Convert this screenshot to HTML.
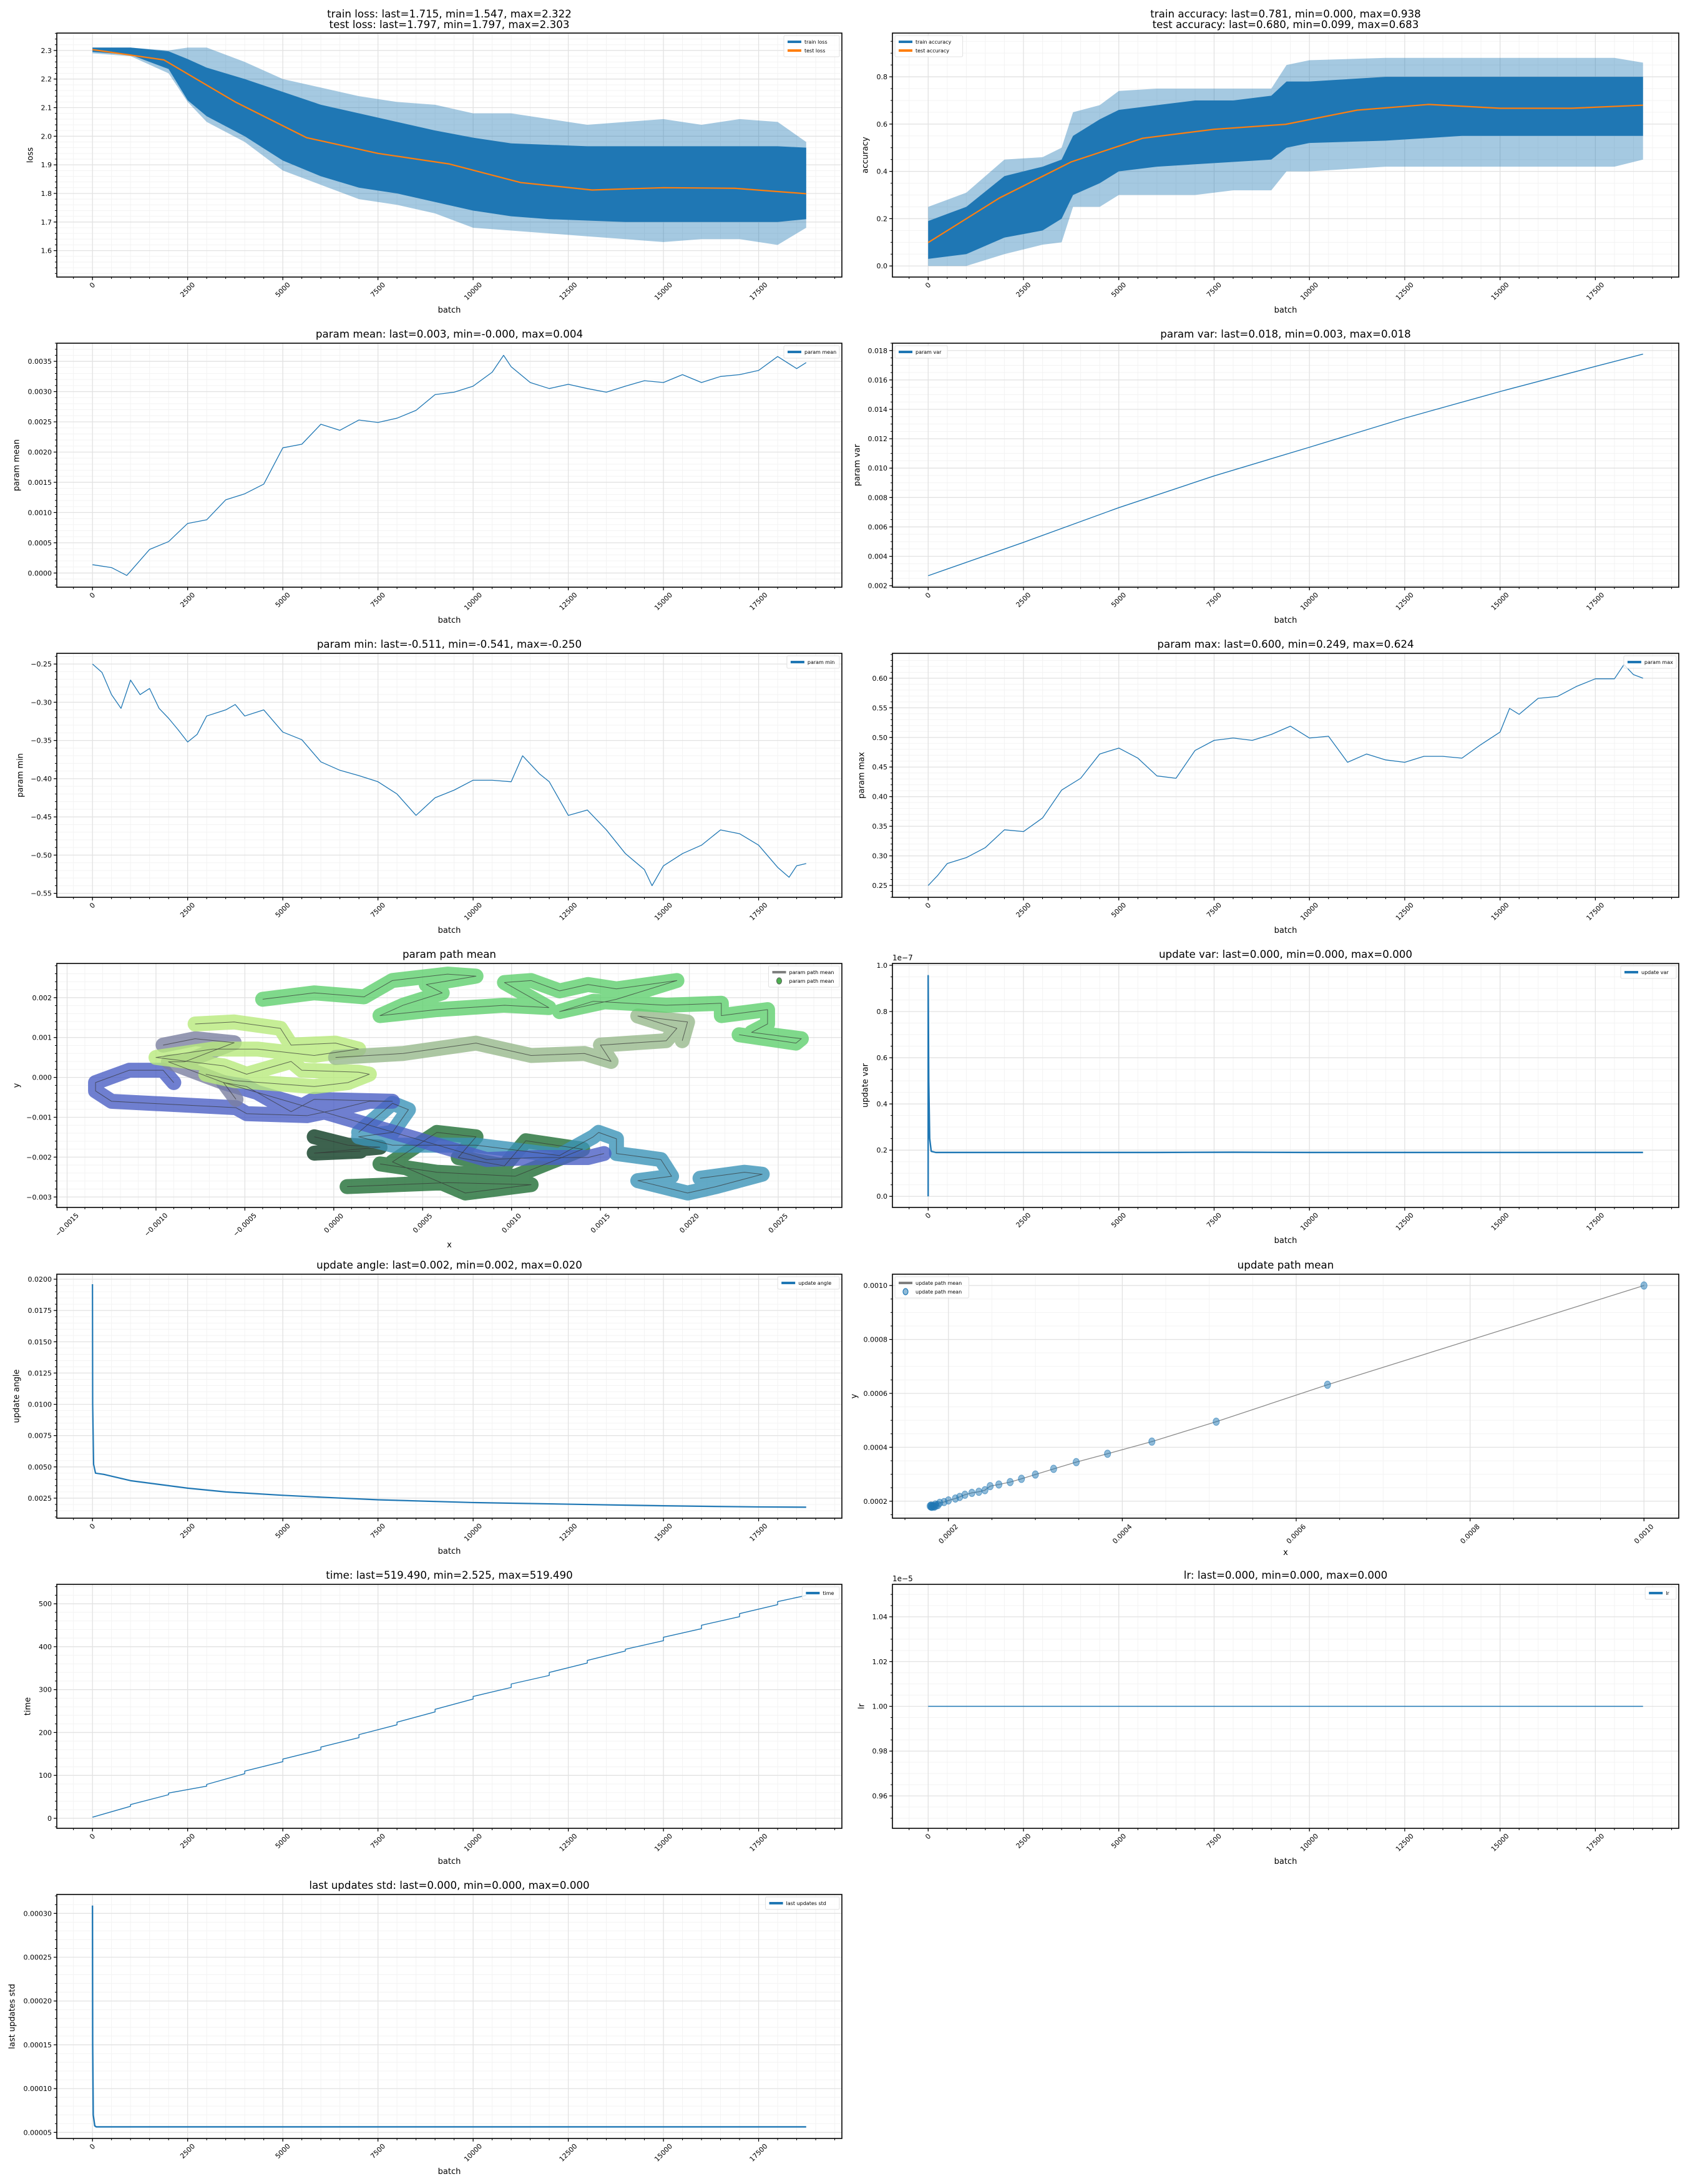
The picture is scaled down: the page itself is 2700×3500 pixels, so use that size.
<!DOCTYPE html>
<html><head><meta charset="utf-8">
<style>
body{margin:0;background:#fff}
svg{display:block}
text{font-family:"DejaVu Sans","Liberation Sans",sans-serif;fill:#000}
</style></head>
<body>
<svg id="fig" width="2700" height="3500" xmlns="http://www.w3.org/2000/svg">
<rect x="0" y="0" width="2700" height="3500" fill="#fff"/>
</svg>
<script>
// ---------------- DATA ----------------
const lossBandBatch = [0,1000,2000,2500,3000,4000,5000,6000,7000,8000,9000,10000,11000,12000,13000,14000,15000,16000,17000,18000,18750];
const lossInnerHi = [2.31,2.31,2.297,2.27,2.24,2.2,2.155,2.11,2.08,2.05,2.02,1.995,1.975,1.97,1.965,1.965,1.965,1.965,1.965,1.965,1.96];
const lossInnerLo = [2.295,2.285,2.235,2.126,2.07,2.0,1.915,1.86,1.82,1.8,1.77,1.74,1.72,1.71,1.705,1.7,1.7,1.7,1.7,1.7,1.71];
const lossOuterHi = [2.31,2.31,2.3,2.31,2.31,2.26,2.2,2.17,2.14,2.12,2.11,2.08,2.08,2.06,2.04,2.05,2.06,2.04,2.06,2.05,1.98];
const lossOuterLo = [2.29,2.28,2.22,2.12,2.05,1.98,1.88,1.83,1.78,1.76,1.73,1.68,1.67,1.66,1.65,1.64,1.63,1.64,1.64,1.62,1.68];
const testLossBatch = [0,1875,3750,5625,7500,9375,11250,13125,15000,16875,18750];
const testLossVals = [2.303,2.267,2.12,1.995,1.94,1.903,1.838,1.812,1.82,1.818,1.799];

const accBandBatch = [0,1000,2000,3000,3500,3800,4500,5000,6000,7000,8000,9000,9400,10000,12000,14000,16000,18000,18750];
const accInnerHi = [0.19,0.25,0.38,0.42,0.45,0.55,0.62,0.66,0.68,0.7,0.7,0.72,0.78,0.78,0.8,0.8,0.8,0.8,0.8];
const accInnerLo = [0.03,0.05,0.12,0.15,0.2,0.3,0.35,0.4,0.42,0.43,0.44,0.45,0.5,0.52,0.53,0.55,0.55,0.55,0.55];
const accOuterHi = [0.25,0.31,0.45,0.46,0.5,0.65,0.68,0.74,0.75,0.75,0.75,0.75,0.85,0.87,0.88,0.88,0.88,0.88,0.86];
const accOuterLo = [0.0,0.0,0.05,0.09,0.1,0.25,0.25,0.3,0.3,0.3,0.32,0.32,0.4,0.4,0.42,0.42,0.42,0.42,0.45];
const testAccBatch = [0,1875,3750,5625,7500,9375,11250,13125,15000,16875,18750];
const testAccVals = [0.099,0.288,0.44,0.54,0.578,0.599,0.659,0.683,0.667,0.667,0.680];

const meanBatch = [0,500,900,1000,1500,2000,2500,3000,3500,4000,4500,5000,5500,6000,6500,7000,7500,8000,8500,9000,9500,10000,10500,10800,11000,11500,12000,12500,13000,13500,14000,14500,15000,15500,16000,16500,17000,17500,18000,18500,18750];
const meanVals = [0.000138,0.00009,-0.00004,0.00003,0.00039,0.00052,0.00082,0.00088,0.00121,0.00131,0.00147,0.00207,0.00213,0.00246,0.00236,0.00253,0.00249,0.00256,0.00269,0.00295,0.00299,0.00309,0.00332,0.0036,0.00341,0.00315,0.00305,0.00312,0.00305,0.00299,0.00309,0.00318,0.00315,0.00328,0.00315,0.00325,0.00328,0.00335,0.00358,0.00338,0.00348];

const varBatch = [0,2500,5000,7500,10000,12500,15000,17500,18750];
const varVals = [0.00268,0.00495,0.00731,0.00947,0.01142,0.0134,0.01521,0.01692,0.01776];

const minBatch = [0,250,500,750,1000,1250,1500,1750,2000,2250,2500,2750,3000,3500,3750,4000,4500,5000,5500,6000,6500,7000,7500,8000,8500,9000,9500,10000,10500,11000,11300,11750,12000,12500,13000,13500,14000,14500,14700,15000,15500,16000,16500,17000,17500,18000,18300,18500,18750];
const minVals = [-0.25,-0.261,-0.29,-0.308,-0.271,-0.29,-0.282,-0.308,-0.321,-0.336,-0.352,-0.342,-0.318,-0.31,-0.303,-0.318,-0.31,-0.339,-0.349,-0.378,-0.389,-0.396,-0.404,-0.42,-0.448,-0.425,-0.415,-0.402,-0.402,-0.404,-0.37,-0.394,-0.404,-0.448,-0.441,-0.467,-0.498,-0.519,-0.54,-0.514,-0.498,-0.487,-0.467,-0.472,-0.487,-0.516,-0.529,-0.514,-0.511];

const maxBatch = [0,250,500,1000,1500,2000,2500,3000,3500,4000,4500,5000,5500,6000,6500,7000,7500,8000,8500,9000,9500,10000,10500,11000,11500,12000,12500,13000,13500,14000,14500,15000,15250,15500,16000,16500,17000,17500,18000,18250,18500,18750];
const maxVals = [0.25,0.267,0.287,0.297,0.314,0.344,0.341,0.364,0.411,0.431,0.472,0.482,0.465,0.435,0.431,0.478,0.495,0.499,0.495,0.505,0.519,0.499,0.502,0.458,0.472,0.462,0.458,0.468,0.468,0.465,0.488,0.509,0.549,0.539,0.566,0.569,0.586,0.599,0.599,0.623,0.606,0.600];

// param path mean, units of 1e-4
const pathSegColors = ['#0d3b22','#1f6e35','#3b93b8','#4b5fc4','#7a7fa0','#b8ea7c','#97b98c','#5fcf6e'];
const pathSegPts = [
 [[-1.1,-14.9],[0.8,-17],[2.6,-17.5],[-1.1,-19],[1.5,-18.5]],
 [[0.75,-27.4],[6.4,-26.4],[11.1,-26.9],[7.4,-29],[3.3,-21.2],[5.8,-13.8],[8,-14.9],[7,-20.1],[9.6,-22.2],[10.8,-15.9],[14,-18],[10.2,-24.8],[5.8,-23.8],[2.6,-21.7]],
 [[1.4,-13.8],[3.3,-6.5],[4.2,-8.1],[3.3,-13.8],[1.4,-14.9],[3.3,-17],[8,-17],[12.7,-19.6],[14.6,-14.9],[14.9,-13.8],[15.9,-15.4],[15.9,-19.1],[18.4,-20.6],[19,-24.8],[17.1,-25.9],[19.9,-29],[21.5,-27.4],[24.1,-24.3],[23.1,-23.8],[20.6,-25.3]],
 [[-9,-1.3],[-9.6,1.8],[-11.5,1.8],[-13.4,-1.3],[-13.4,-3.4],[-12.5,-6],[-5.5,-7.6],[-4.9,-9.1],[-1.5,-9.6],[0.1,-8.1],[2,-6],[3.3,-6],[-1.1,-5.5],[-2.4,-8.6],[-4.9,-2.3],[-6.2,-1.3],[8.6,-20.6],[11.5,-20.1],[14.3,-20.1],[15.2,-19.1]],
 [[-9.6,8.1],[-7.8,9.7],[-5.6,8.7],[-8.4,3.9],[-9.3,3.9],[-6.2,-1.3],[-5.5,-5.5]],
 [[-7.8,13.4],[-5.6,13.9],[-3.0,12.3],[-2.4,8.1],[0.1,8.6],[1.4,7.1],[-1.1,5.5],[-4.3,7.1],[-6.8,7.1],[-10,5],[-6.2,2.9],[-4.9,0.8],[-2.4,4],[-1.8,1.8],[1.4,1.3],[2,0.8],[0.8,-1.3],[-1.1,-2.3],[-5.6,-0.8],[-7.2,0.8]],
 [[0.1,5],[3.9,6],[8,8.6],[11.1,5.5],[14.1,6],[15.6,4],[15,8.1],[18.7,9.2],[19.3,12.3],[17.1,15.4],[19.9,13.9],[19.6,9.2]],
 [[-4,19.6],[-1.1,21.2],[1.7,20.2],[3.3,24.3],[6.4,25.9],[8,25.4],[5.2,23.3],[6.1,21.2],[3.9,18.1],[2.6,15.5],[5.8,17],[9.6,18.1],[12.1,17.5],[9.6,23.8],[11.1,24.3],[12.7,21.7],[14.3,23.3],[15.9,22.2],[19.3,24.3],[15.9,19.6],[12.7,16.5],[14.6,19.1],[18.7,18.1],[21.8,18.6],[21.8,15.5],[24.4,17],[24.4,13.4],[23.5,11.3],[26.3,9.7],[26,8.6],[22.8,10.7]]
];

const updVarBatch = [0,0,15,40,80,200,2000,4000,6000,8000,10000,12000,14000,16000,18000,18750];
const updVarVals = [0,0.955,0.5,0.25,0.195,0.19,0.19,0.19,0.19,0.191,0.19,0.19,0.19,0.19,0.19,0.19];

const angleBatch = [0,5,30,80,300,1000,1500,2000,2500,3500,5000,6000,7500,10000,12500,15000,17500,18750];
const angleVals = [0.0196,0.010,0.0052,0.0045,0.0044,0.0039,0.0037,0.0035,0.0033,0.0030,0.00273,0.00258,0.00237,0.00215,0.00202,0.00189,0.0018,0.00178];

// update path mean, units of 1e-4
const updPathX = [10,6.36,5.08,4.34,3.83,3.47,3.21,3.0,2.84,2.71,2.58,2.48,2.42,2.35,2.27,2.19,2.13,2.08,2.0,1.95,1.9,1.85,1.82,1.80,1.79,1.81,1.83,1.86,1.88,1.84,1.80];
const updPathY = [10,6.32,4.95,4.21,3.76,3.45,3.2,2.99,2.83,2.71,2.62,2.56,2.41,2.35,2.31,2.24,2.16,2.1,2.03,1.97,1.94,1.88,1.83,1.80,1.82,1.79,1.81,1.84,1.86,1.80,1.84];

const timeBatch = [0,1000,1000,2000,2000,3000,3000,4000,4000,5000,5000,6000,6000,7000,7000,8000,8000,9000,9000,10000,10000,11000,11000,12000,12000,13000,13000,14000,14000,15000,15000,16000,16000,17000,17000,18000,18000,18750];
const timeVals = [2.5,28,32,55,59,75,79,104,110,132,138,160,166,188,195,218,224,248,254,278,284,305,313,333,340,362,368,390,394,414,422,442,450,470,477,498,505,519.5];

const lrBatch = [0,18750];
const lrVals = [1.0,1.0];

const stdBatch = [0,5,20,60,100,18750];
const stdVals = [0.000309,0.00015,0.00007,0.0000575,0.0000563,0.0000563];

const batchTickStep = 2500;

// ---------------- HELPERS ----------------
const NS = 'http://www.w3.org/2000/svg';
const svg = document.getElementById('fig');
function mk(tag, attrs, parent){
  const e = document.createElementNS(NS, tag);
  for (const k in attrs) e.setAttribute(k, attrs[k]);
  (parent || svg).appendChild(e);
  return e;
}
function fmt(v, d){ let s = v.toFixed(d); if (Math.abs(v) < 1e-12) s = (0).toFixed(d); return s.replace('-', '\u2212'); }
function multiples(lo, hi, step){
  const out = []; const k0 = Math.ceil(lo/step - 1e-9), k1 = Math.floor(hi/step + 1e-9);
  for (let k = k0; k <= k1; k++) out.push(k*step);
  return out;
}
const COLS = [{left:91, w:1258},{left:1430, w:1260}];
const ROWS = [53,550,1047,1544,2042,2539,3036];
const H = 391;
const BLUE = '#1f77b4', ORANGE = '#ff7f0e';
let clipId = 0;

function panel(p){
  const left = COLS[p.col].left, w = COLS[p.col].w, top = ROWS[p.row], h = H;
  const X = v => left + (v - p.xlim[0])/(p.xlim[1]-p.xlim[0])*w;
  const Y = v => top + h - (v - p.ylim[0])/(p.ylim[1]-p.ylim[0])*h;
  const g = mk('g', {});
  
  
  const xMaj = multiples(p.xlim[0], p.xlim[1], p.xstep);
  const yMaj = multiples(p.ylim[0], p.ylim[1], p.ystep);
  const xMin = multiples(p.xlim[0], p.xlim[1], p.xstep/p.xdiv);
  const yMin = multiples(p.ylim[0], p.ylim[1], p.ystep/p.ydiv);
  const grid = mk('g', {}, g);
  
  
  xMin.forEach(v => { const l = mk('line', {x1:X(v), x2:X(v), y1:top, y2:top+h, stroke:'#f3f3f3', 'stroke-width':1}, grid);
    
     });
  yMin.forEach(v => { const l = mk('line', {x1:left, x2:left+w, y1:Y(v), y2:Y(v), stroke:'#f3f3f3', 'stroke-width':1}, grid);
    
     });
  xMaj.forEach(v => { const l = mk('line', {x1:X(v), x2:X(v), y1:top, y2:top+h, stroke:'#e2e2e2', 'stroke-width':1.3}, grid);
    
     });
  yMaj.forEach(v => { const l = mk('line', {x1:left, x2:left+w, y1:Y(v), y2:Y(v), stroke:'#e2e2e2', 'stroke-width':1.3}, grid);
    
     });
  const cid = 'clip' + (clipId++);
  const cp = mk('clipPath', {id:cid}, g);
  mk('rect', {x:left, y:top, width:w, height:h}, cp);
  const dg = mk('g', {'clip-path':'url(#'+cid+')'}, g);
  
  
  p.draw(dg, X, Y);
  const fr = mk('rect', {x:left, y:top, width:w, height:h, fill:'none', stroke:'#000', 'stroke-width':1.6}, g);
  
  
  xMin.forEach(v => { const t = mk('line', {x1:X(v), x2:X(v), y1:top+h, y2:top+h+3, stroke:'#000', 'stroke-width':1}, g);
    
     });
  yMin.forEach(v => { const t = mk('line', {x1:left-3, x2:left, y1:Y(v), y2:Y(v), stroke:'#000', 'stroke-width':1}, g);
    
     });
  xMaj.forEach(v => {
    const t = mk('line', {x1:X(v), x2:X(v), y1:top+h, y2:top+h+5, stroke:'#000', 'stroke-width':1.2}, g);
    
    
    const s = fmt(v, p.xdec);
    const tw = s.length*0.62*11;
    const cy = top + h + 7 + (tw + 11)*0.707/2;
    const tx = mk('text', {x:0, y:0, 'font-size':11, 'text-anchor':'middle', 'dominant-baseline':'central', transform:'translate('+X(v)+','+cy+') rotate(-45)'}, g);
    tx.textContent = s;
    
    
  });
  yMaj.forEach(v => {
    const t = mk('line', {x1:left-5, x2:left, y1:Y(v), y2:Y(v), stroke:'#000', 'stroke-width':1.2}, g);
    
    
    const tx = mk('text', {x:left-8, y:Y(v)+4, 'font-size':11, 'text-anchor':'end'}, g);
    tx.textContent = fmt(v, p.ydec);
    
    
  });
  p.title.forEach((line, i) => {
    const by = p.title.length === 1 ? top - 9 : top - 25 + i*17;
    const t = mk('text', {x:left + w/2, y:by, 'font-size':16.7, 'text-anchor':'middle'}, g);
    t.textContent = line;
    
    
  });
  if (p.offset){
    const o = mk('text', {x:left, y:top-5, 'font-size':12}, g);
    o.textContent = p.offset;
    
    
  }
  const xl = mk('text', {x:left + w/2, y:top + h + (p.xlabOff||57), 'font-size':13, 'text-anchor':'middle'}, g);
  xl.textContent = p.xlabel;
  
  
  const yl = mk('text', {x:0, y:0, 'font-size':13, 'text-anchor':'middle', 'dominant-baseline':'central', transform:'translate('+p.ylabX+','+(top+h/2)+') rotate(-90)'}, g);
  yl.textContent = p.ylabel;
  
  
  const maxLen = Math.max(...p.legend.map(e => e.label.length));
  const bw = 40 + maxLen*4.9, bh = 6 + p.legend.length*14;
  const bx = p.legendLoc === 'ul' ? left + 4 : left + w - 4 - bw;
  const by = top + 4;
  const lg = mk('g', {}, g);
  
  
  mk('rect', {x:bx, y:by, width:bw, height:bh, rx:2, fill:'#fff', 'fill-opacity':0.8, stroke:'#e0e0e0', 'stroke-width':1}, lg);
  p.legend.forEach((e, i) => {
    const ey = by + 10 + i*14;
    let mkr;
    if (e.marker){
      mkr = mk('ellipse', {cx:bx+17, cy:ey, rx:4, ry:5, fill:e.fill, 'fill-opacity':e.op||1, stroke:e.color, 'stroke-width':1.2}, lg);
    } else {
      mkr = mk('line', {x1:bx+6, x2:bx+28, y1:ey, y2:ey, stroke:e.color, 'stroke-width':4}, lg);
    }
    
    
    const t = mk('text', {x:bx+33, y:ey+3, 'font-size':8}, lg);
    t.textContent = e.label;
    
    
  });
}
function line(parent, xs, ys, X, Y, color, width, name){
  const pts = xs.map((x, i) => X(x).toFixed(2) + ',' + Y(ys[i]).toFixed(2)).join(' ');
  const el = mk('polyline', {points:pts, fill:'none', stroke:color, 'stroke-width':width, 'stroke-linejoin':'round'}, parent);
  
  
  return el;
}
function band(parent, xs, hi, lo, X, Y, color, op, name){
  const a = xs.map((x, i) => X(x).toFixed(2) + ',' + Y(hi[i]).toFixed(2));
  const b = xs.map((x, i) => X(x).toFixed(2) + ',' + Y(lo[i]).toFixed(2)).reverse();
  const el = mk('polygon', {points:a.concat(b).join(' '), fill:color, 'fill-opacity':op, stroke:'none'}, parent);
  
  
}
const BX = [-937.5, 19687.5];
const batchAxis = {xlim:BX, xstep:batchTickStep, xdiv:5, xdec:0, xlabel:'batch'};

// ---------------- PANELS ----------------
panel(Object.assign({}, batchAxis, {name:'loss', col:0, row:0, ylim:[1.5075,2.3608], ystep:0.1, ydiv:5, ydec:1,
  title:['train loss: last=1.715, min=1.547, max=2.322','test loss: last=1.797, min=1.797, max=2.303'], ylabel:'loss', ylabX:49,
  legend:[{label:'train loss', color:BLUE},{label:'test loss', color:ORANGE}], legendLoc:'ur',
  draw:(g, X, Y) => {
    band(g, lossBandBatch, lossOuterHi, lossOuterLo, X, Y, BLUE, 0.4, 'train-loss-spikes');
    band(g, lossBandBatch, lossInnerHi, lossInnerLo, X, Y, BLUE, 1, 'train-loss-band');
    line(g, testLossBatch, testLossVals, X, Y, ORANGE, 2.2, 'test-loss-line');
  }}));

panel(Object.assign({}, batchAxis, {name:'accuracy', col:1, row:0, ylim:[-0.0469,0.9849], ystep:0.2, ydiv:4, ydec:1,
  title:['train accuracy: last=0.781, min=0.000, max=0.938','test accuracy: last=0.680, min=0.099, max=0.683'], ylabel:'accuracy', ylabX:1387,
  legend:[{label:'train accuracy', color:BLUE},{label:'test accuracy', color:ORANGE}], legendLoc:'ul',
  draw:(g, X, Y) => {
    band(g, accBandBatch, accOuterHi, accOuterLo, X, Y, BLUE, 0.4, 'train-accuracy-spikes');
    band(g, accBandBatch, accInnerHi, accInnerLo, X, Y, BLUE, 1, 'train-accuracy-band');
    line(g, testAccBatch, testAccVals, X, Y, ORANGE, 2.2, 'test-accuracy-line');
  }}));

panel(Object.assign({}, batchAxis, {name:'param-mean', col:0, row:1, ylim:[-0.000234,0.0038], ystep:0.0005, ydiv:5, ydec:4,
  title:['param mean: last=0.003, min=-0.000, max=0.004'], ylabel:'param mean', ylabX:27,
  legend:[{label:'param mean', color:BLUE}], legendLoc:'ur',
  draw:(g, X, Y) => line(g, meanBatch, meanVals, X, Y, BLUE, 1.3, 'param-mean-line')}));

panel(Object.assign({}, batchAxis, {name:'param-var', col:1, row:1, ylim:[0.0019,0.0185], ystep:0.002, ydiv:4, ydec:3,
  title:['param var: last=0.018, min=0.003, max=0.018'], ylabel:'param var', ylabX:1374,
  legend:[{label:'param var', color:BLUE}], legendLoc:'ul',
  draw:(g, X, Y) => line(g, varBatch, varVals, X, Y, BLUE, 1.4, 'param-var-line')}));

panel(Object.assign({}, batchAxis, {name:'param-min', col:0, row:2, ylim:[-0.5552,-0.236], ystep:0.05, ydiv:5, ydec:2,
  title:['param min: last=-0.511, min=-0.541, max=-0.250'], ylabel:'param min', ylabX:33,
  legend:[{label:'param min', color:BLUE}], legendLoc:'ur',
  draw:(g, X, Y) => line(g, minBatch, minVals, X, Y, BLUE, 1.3, 'param-min-line')}));

panel(Object.assign({}, batchAxis, {name:'param-max', col:1, row:2, ylim:[0.230,0.642], ystep:0.05, ydiv:5, ydec:2,
  title:['param max: last=0.600, min=0.249, max=0.624'], ylabel:'param max', ylabX:1381,
  legend:[{label:'param max', color:BLUE}], legendLoc:'ur',
  draw:(g, X, Y) => line(g, maxBatch, maxVals, X, Y, BLUE, 1.3, 'param-max-line')}));

panel({name:'param-path', col:0, row:3, xlim:[-0.001558,0.002858], ylim:[-0.003262,0.002858], xstep:0.0005, xdiv:5, xdec:4, ystep:0.001, ydiv:5, ydec:3,
  title:['param path mean'], xlabel:'x', xlabOff:64, ylabel:'y', ylabX:27,
  legend:[{label:'param path mean', color:'#808080'},{label:'param path mean', color:'#607060', fill:'#4caf50', marker:true}], legendLoc:'ur',
  draw:(g, X, Y) => {
    pathSegPts.forEach((seg, i) => {
      const xs = seg.map(p => p[0]*1e-4), ys = seg.map(p => p[1]*1e-4);
      const el = line(g, xs, ys, X, Y, pathSegColors[i], 24, 'path-segment-' + i);
      el.setAttribute('stroke-linecap', 'round');
      el.setAttribute('stroke-opacity', '0.8');
    });
    pathSegPts.forEach((seg, i) => {
      const xs = seg.map(p => p[0]*1e-4), ys = seg.map(p => p[1]*1e-4);
      const el = line(g, xs, ys, X, Y, '#333', 1, 'path-trace-' + i);
      el.setAttribute('stroke-opacity', '0.7');
    });
  }});

panel(Object.assign({}, batchAxis, {name:'update-var', col:1, row:3, ylim:[-0.048,1.008], ystep:0.2, ydiv:4, ydec:1, offset:'1e\u22127',
  title:['update var: last=0.000, min=0.000, max=0.000'], ylabel:'update var', ylabX:1387,
  legend:[{label:'update var', color:BLUE}], legendLoc:'ur',
  draw:(g, X, Y) => line(g, updVarBatch, updVarVals, X, Y, BLUE, 2.4, 'update-var-line')}));

panel(Object.assign({}, batchAxis, {name:'update-angle', col:0, row:4, ylim:[0.0009,0.0204], ystep:0.0025, ydiv:5, ydec:4,
  title:['update angle: last=0.002, min=0.002, max=0.020'], ylabel:'update angle', ylabX:27,
  legend:[{label:'update angle', color:BLUE}], legendLoc:'ur',
  draw:(g, X, Y) => line(g, angleBatch, angleVals, X, Y, BLUE, 2.2, 'update-angle-line')}));

panel({name:'update-path', col:1, row:4, xlim:[0.0001356,0.00104], ylim:[0.000137,0.001042], xstep:0.0002, xdiv:4, xdec:4, ystep:0.0002, ydiv:4, ydec:4,
  title:['update path mean'], xlabel:'x', xlabOff:59, ylabel:'y', ylabX:1369,
  legend:[{label:'update path mean', color:'#808080'},{label:'update path mean', color:BLUE, fill:BLUE, op:0.5, marker:true}], legendLoc:'ul',
  draw:(g, X, Y) => {
    line(g, updPathX.map(v => v*1e-4), updPathY.map(v => v*1e-4), X, Y, '#8a8a8a', 1.3, 'update-path-line');
    updPathX.forEach((v, i) => {
      const c = mk('ellipse', {cx:X(v*1e-4), cy:Y(updPathY[i]*1e-4), rx:5, ry:6, fill:BLUE, 'fill-opacity':0.5, stroke:BLUE, 'stroke-opacity':0.6, 'stroke-width':1}, g);
      
      
    });
  }});

panel(Object.assign({}, batchAxis, {name:'time', col:0, row:5, ylim:[-23.35,545.35], ystep:100, ydiv:5, ydec:0,
  title:['time: last=519.490, min=2.525, max=519.490'], ylabel:'time', ylabX:45,
  legend:[{label:'time', color:BLUE}], legendLoc:'ur',
  draw:(g, X, Y) => line(g, timeBatch, timeVals, X, Y, BLUE, 1.4, 'time-line')}));

panel(Object.assign({}, batchAxis, {name:'lr', col:1, row:5, ylim:[0.9455,1.0545], ystep:0.02, ydiv:4, ydec:2, offset:'1e\u22125',
  title:['lr: last=0.000, min=0.000, max=0.000'], ylabel:'lr', ylabX:1381,
  legend:[{label:'lr', color:BLUE}], legendLoc:'ur',
  draw:(g, X, Y) => line(g, lrBatch, lrVals, X, Y, BLUE, 1.4, 'lr-line')}));

panel(Object.assign({}, batchAxis, {name:'last-updates-std', col:0, row:6, ylim:[0.0000431,0.0003216], ystep:0.00005, ydiv:5, ydec:5,
  title:['last updates std: last=0.000, min=0.000, max=0.000'], ylabel:'last updates std', ylabX:20,
  legend:[{label:'last updates std', color:BLUE}], legendLoc:'ur',
  draw:(g, X, Y) => line(g, stdBatch, stdVals, X, Y, BLUE, 2.4, 'last-updates-std-line')}));
</script>
</body></html>
